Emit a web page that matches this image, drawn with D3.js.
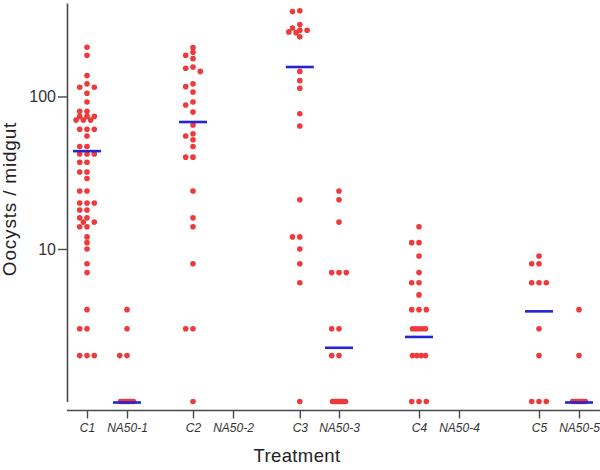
<!DOCTYPE html>
<html>
<head>
<meta charset="utf-8">
<script src="https://cdn.jsdelivr.net/npm/d3@7"></script>
<style>
  body { margin: 0; background: #fff; }
  svg { display: block; font-family: "Liberation Sans", Arial, sans-serif; }
</style>
</head>
<body>
<svg id="chart"></svg>
<script>
// categories along the x axis
const categories = ["C1", "NA50-1", "C2", "NA50-2", "C3", "NA50-3", "C4", "NA50-4", "C5", "NA50-5"];

// oocysts per midgut (bottom row plotted at 1)
const c1Values = [210, 186, 137, 121, 115, 115, 105, 92, 80, 80, 74, 74, 74, 70, 70, 70, 61, 61, 61, 55,
  47, 47, 42, 42, 42, 37, 37, 32, 32, 29, 24, 24, 20, 20, 20, 18, 18, 16, 16, 15, 15, 14, 14, 12, 11, 10,
  8, 7, 4, 3, 3, 2, 2, 2];
const na501Values = [4, 3, 2, 2, 1, 1, 1, 1, 1, 1, 1, 1];
const c2Values = [209, 195, 186, 177, 156, 153, 146, 121, 116, 107, 92, 88, 79, 65, 57, 55, 52, 47, 40, 40,
  24, 16, 14, 8, 3, 3, 1];
const na502Values = [];
const c3Values = [365, 360, 296, 281, 272, 272, 265, 262, 246, 146, 127, 113, 77, 64, 21, 12, 12, 10, 8, 6, 1];
const na503Values = [24, 21, 15, 7, 7, 7, 3, 3, 2, 2, 1, 1, 1, 1, 1, 1, 1, 1];
const c4Values = [14, 11, 11, 9, 7, 6, 6, 5, 4, 4, 4, 3, 3, 3, 3, 3, 2, 2, 2, 2, 1, 1, 1];
const na504Values = [];
const c5Values = [9, 8, 8, 6, 6, 6, 3, 2, 1, 1, 1];
const na505Values = [4, 2, 1, 1, 1, 1, 1, 1, 1, 1];

const seriesValues = [c1Values, na501Values, c2Values, na502Values, c3Values,
  na503Values, c4Values, na504Values, c5Values, na505Values];

// median bars as drawn (null = no bar)
const medians = [43.8, 1, 68, null, 156, 2.25, 2.65, null, 3.9, 1];

const yTicks = [10, 100];

// layout
const width = 600;
const height = 470;
const svg = d3.select("#chart").attr("width", width).attr("height", height);

// slot positions of the categories (pairs with wider gaps between them)
const slots = [0, 1, 2.65, 3.65, 5.32, 6.3, 8.3, 9.3, 11.3, 12.3];
const slotScale = d3.scaleLinear().domain([0, 12.3]).range([87, 579]);
const x = d3.scaleOrdinal(categories, slots.map((s) => slotScale(s)));

const y = d3.scaleLog().domain([1, 410]).range([401.5, 3]);

const axisColor = "#4a4a4a";

// y axis
const yAxis = svg.append("g")
  .attr("transform", "translate(67,0)")
  .call(d3.axisLeft(y).tickValues(yTicks).tickFormat(d3.format("d")).tickSize(9).tickSizeOuter(0));
yAxis.select(".domain").attr("stroke", axisColor).attr("stroke-width", 1.6);
yAxis.selectAll(".tick line").attr("stroke", axisColor).attr("stroke-width", 1.4);
yAxis.selectAll(".tick text")
  .attr("font-size", 16)
  .attr("font-family", "Liberation Sans, Arial, sans-serif")
  .attr("fill", "#333")
  .attr("x", -11);

// x axis
const xAxisY = 410.5;
const xAxis = svg.append("g")
  .attr("transform", `translate(0,${xAxisY})`)
  .call(d3.axisBottom(x).tickSize(8).tickSizeOuter(0).tickPadding(5));
xAxis.select(".domain").remove();
xAxis.append("line")
  .attr("x1", 67).attr("x2", width)
  .attr("stroke", axisColor).attr("stroke-width", 1.6);
xAxis.selectAll(".tick line").attr("stroke", axisColor).attr("stroke-width", 1.4);
xAxis.selectAll(".tick text")
  .attr("font-size", 12)
  .attr("font-style", "italic")
  .attr("font-family", "Liberation Sans, Arial, sans-serif")
  .attr("fill", "#333");

// axis titles
svg.append("text")
  .attr("transform", "translate(15.5,199) rotate(-90)")
  .attr("text-anchor", "middle")
  .attr("font-size", 19)
  .attr("letter-spacing", 0.8)
  .attr("fill", "#222")
  .text("Oocysts / midgut");

svg.append("text")
  .attr("x", 297)
  .attr("y", 462)
  .attr("text-anchor", "middle")
  .attr("font-size", 18.5)
  .attr("letter-spacing", 0.4)
  .attr("fill", "#222")
  .text("Treatment");

// scatter layout: same values side by side, near values nudged apart
const step = 3.65;
const candidates = [0, -2, 2, -1, 1, -3, 3].map((k) => k * step);

function layoutGroup(values, cx) {
  const placed = [];
  const rows = d3.groups(values, (v) => v).sort((a, b) => b[0] - a[0]);
  rows.forEach(([v, list]) => {
    const py = y(v);
    if (list.length >= 4) {
      const span = 13;
      list.forEach((_, i) => {
        placed.push({ x: cx + (i - (list.length - 1) / 2) * span / (list.length - 1), y: py });
      });
      return;
    }
    list.forEach(() => {
      const gap = (c) => d3.min(placed, (p) => Math.hypot(p.x - (cx + c), p.y - py)) ?? Infinity;
      let off = candidates.find((c) => gap(c) >= 4.5);
      if (off === undefined) off = candidates[d3.maxIndex(candidates, gap)];
      placed.push({ x: cx + off, y: py });
    });
  });
  return placed;
}

const dots = categories.flatMap((c, i) => layoutGroup(seriesValues[i], x(c)));

svg.append("g")
  .selectAll("circle")
  .data(dots)
  .join("circle")
  .attr("cx", (d) => d.x)
  .attr("cy", (d) => d.y)
  .attr("r", 2.8)
  .attr("fill", "#ee3a3a");

// median bars
svg.append("g")
  .selectAll("line")
  .data(categories.map((c, i) => ({ c, m: medians[i] })).filter((d) => d.m !== null))
  .join("line")
  .attr("x1", (d) => x(d.c) - 14)
  .attr("x2", (d) => x(d.c) + 14)
  .attr("y1", (d) => y(d.m) + (d.m === 1 ? 1 : 0))
  .attr("y2", (d) => y(d.m) + (d.m === 1 ? 1 : 0))
  .attr("stroke", "#2424d6")
  .attr("stroke-width", 2.6);
</script>
</body>
</html>
